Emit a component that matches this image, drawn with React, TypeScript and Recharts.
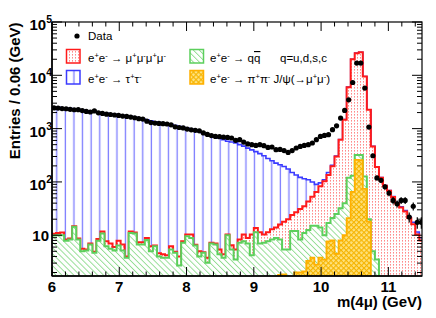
import React from 'react';
import { ComposedChart, Area, Scatter, XAxis, YAxis, ErrorBar } from 'recharts';

// ---------- data ----------
const BIN_START = 6.0;
const BIN_WIDTH = 0.06;
const X_MIN = 6;
const X_MAX = 11.5;
const Y_MIN = 1.72;
const Y_MAX = 100000;

// observed events per bin
const DATA_COUNTS = [
  2450, 2430, 2380, 2360, 2300, 2260, 2270, 2180, 2100, 2050,
  2150, 1980, 1930, 1870, 1840, 1800, 1770, 1720, 1690, 1650,
  1600, 1540, 1510, 1380, 1300, 1270, 1250, 1240, 1220, 1180,
  1080, 1050, 1030, 980, 950, 930, 910, 830, 780, 740,
  715, 705, 690, 684, 667, 602, 620, 560, 516, 500,
  484, 500, 479, 444, 452, 403, 407, 388, 358, 388,
  433, 464, 484, 500, 537, 620, 715, 746, 769, 955,
  1130, 1580, 2190, 3470, 7330, 17000, 17000, 5760, 1070, 310,
  119, 107, 81, 62, 45, 39, 45, 45, 22, 35,
  17.5, 17.5,
];
// visible error bars of the last bins (from bin 78 on)
const ERR_TAIL_START = 78;
const DATA_ERR_TAIL = [33, 18, 11, 10, 9, 8, 7, 6, 6.5, 6.5, 4.7, 6, 4.2, 4.2];

// stack top: all MC (tau tau on top)
const STACK_TAUTAU = [
  2550, 2500, 2450, 2400, 2370, 2330, 2290, 2230, 2170, 2120,
  2080, 2030, 1980, 1930, 1890, 1850, 1800, 1760, 1720, 1680,
  1630, 1580, 1530, 1460, 1400, 1340, 1300, 1260, 1230, 1190,
  1140, 1090, 1050, 1010, 970, 930, 880, 820, 780, 740,
  700, 660, 620, 580, 560, 540, 500, 470, 430, 400,
  370, 340, 310, 275, 250, 225, 210, 195, 175, 150,
  135, 122, 115, 110, 100, 90, 96, 110, 150, 205,
  305, 625, 1480, 6020, 20030, 26030, 27030, 9510, 2262, 465,
  191, 121, 86, 69, 53, 41, 34, 29, 22, 17.5,
  11.5, 9,
];
// mu mu mu mu on top of qq + J/psi
const STACK_4MU = [
  10.7, 11.0, 11.3, 8.3, 8.7, 14.8, 8.7, 5.6, 5.4, 7.0,
  4.9, 8.5, 11.7, 7.7, 7.0, 6.0, 7.9, 6.7, 4.0, 11.7,
  11.3, 7.4, 7.4, 8.9, 6.2, 6.4, 4.6, 4.4, 4.2, 6.2,
  4.9, 4.0, 7.7, 10.3, 10.3, 6.6, 5.0, 4.8, 3.8, 7.2,
  7.0, 5.4, 4.4, 10.3, 6.5, 5.4, 8.3, 10.3, 8.9, 10.3,
  13.7, 11.4, 10.3, 11.4, 13.0, 14.0, 15.9, 18, 20, 24,
  27, 31, 35, 43, 53, 65, 83, 103, 135, 197,
  300, 617, 1470, 6000, 20000, 26000, 27000, 9500, 2260, 464,
  190, 120, 85, 68, 52, 40, 33, 28, 21, 16,
  10.3, 8,
];
// q qbar on top of J/psi  (1 = empty bin, below the axis)
const STACK_QQ = [
  9.9, 10.0, 10.0, 7.9, 8.3, 14.5, 8.3, 5.0, 5.2, 6.7,
  4.7, 7.9, 10.8, 6.2, 5.6, 5.2, 6.4, 5.2, 3.8, 11.0,
  10.8, 6.7, 6.7, 8.1, 5.0, 6.2, 4.0, 3.8, 3.8, 5.4,
  4.7, 2.7, 7.2, 9.6, 8.9, 6.4, 4.0, 4.7, 3.05, 7.0,
  6.7, 4.4, 3.8, 10.0, 5.4, 3.5, 7.2, 7.7, 7.0, 4.2,
  11.4, 7.0, 7.2, 7.7, 8.3, 8.9, 8.3, 5.4, 5.4, 12,
  12, 8.3, 11, 12.6, 15, 15, 14, 10, 17, 21,
  25, 32, 40, 120, 130, 320, 320, 127, 20, 5,
  3.5, 1, 1, 1, 1, 1, 1, 1, 1, 1,
  1, 1,
];
// pi pi J/psi  (1 = empty bin, below the axis)
const STACK_JPSI = [
  1, 1, 1, 1, 1, 1, 1, 1, 1, 1,
  1, 1, 1, 1, 1, 1, 1, 1, 1, 1,
  1, 1, 1, 1, 1, 1, 1, 1, 1, 1,
  1, 1, 1, 1, 1, 1, 1, 1, 1, 1,
  1, 1, 1, 1, 1, 1, 1, 1, 1, 1,
  1, 1, 1, 1, 1, 1, 1.8, 1.85, 1.5, 1.5,
  2.0, 2.0, 2.1, 3.3, 3.8, 2.8, 3.8, 3.5, 7.7, 8.0,
  4.5, 8.0, 10, 21, 65, 260, 255, 74, 18, 1,
  1, 1, 1, 1, 1, 1, 1, 1, 1, 1,
  1, 1,
];

const X_TICKS = [
  6, 6.2, 6.4, 6.6, 6.8, 7, 7.2, 7.4, 7.6, 7.8, 8, 8.2, 8.4, 8.6, 8.8,
  9, 9.2, 9.4, 9.6, 9.8, 10, 10.2, 10.4, 10.6, 10.8, 11, 11.2, 11.4,
];
const X_LABELS = [6, 7, 8, 9, 10, 11];
const Y_TICKS = [
  2, 3, 4, 5, 6, 7, 8, 9,
  10, 20, 30, 40, 50, 60, 70, 80, 90,
  100, 200, 300, 400, 500, 600, 700, 800, 900,
  1000, 2000, 3000, 4000, 5000, 6000, 7000, 8000, 9000,
  10000, 20000, 30000, 40000, 50000, 60000, 70000, 80000, 90000, 100000,
];

// ---------- tables for the library ----------
const NB = DATA_COUNTS.length;
const histRows = [] as any[];
for (let i = 0; i <= NB; i++) {
  const k = Math.min(i, NB - 1);
  histRows.push({
    x: +(BIN_START + BIN_WIDTH * i).toFixed(3),
    tautau: STACK_TAUTAU[k],
    mu4: STACK_4MU[k],
    qq: STACK_QQ[k],
    jpsi: STACK_JPSI[k],
  });
}
const pointRows = DATA_COUNTS.map((v, i) => ({
  x: +(BIN_START + BIN_WIDTH * (i + 0.5)).toFixed(3),
  y: v,
  err: i >= ERR_TAIL_START ? DATA_ERR_TAIL[i - ERR_TAIL_START] : 0,
}));

// ---------- layout ----------
const W = 436;
const H = 318;
const PLOT_LEFT = 52;
const PLOT_RIGHT = 422;
const PLOT_TOP = 22;
const PLOT_BOTTOM = 276;
const FONT = '"Liberation Sans", Arial, Helvetica, sans-serif';

const C_BLUE = '#3b3bff';
const C_RED = '#ff1a1a';
const C_GREEN = '#5ccf5c';
const C_YELLOW = '#ffb000';

function XTick(props: any) {
  const { x, payload } = props;
  const v = payload.value;
  const major = X_LABELS.some((m) => Math.abs(m - v) < 1e-6);
  const len = major ? 9 : 4.5;
  return (
    <g>
      <line x1={x} x2={x} y1={PLOT_BOTTOM} y2={PLOT_BOTTOM - len} stroke="#000" strokeWidth={1} />
      <line x1={x} x2={x} y1={PLOT_TOP} y2={PLOT_TOP + len} stroke="#000" strokeWidth={1} />
      {major && (
        <text x={x} y={291.5} textAnchor="middle" fontFamily={FONT} fontWeight="bold" fontSize={15} fill="#000">
          {String(v)}
        </text>
      )}
    </g>
  );
}

function YTick(props: any) {
  const { y, payload } = props;
  const v = payload.value;
  const e = Math.log10(v);
  const major = Math.abs(e - Math.round(e)) < 1e-6;
  const len = major ? 10 : 5;
  const n = Math.round(e);
  return (
    <g>
      <line x1={PLOT_LEFT} x2={PLOT_LEFT + len} y1={y} y2={y} stroke="#000" strokeWidth={1} />
      <line x1={PLOT_RIGHT} x2={PLOT_RIGHT - len} y1={y} y2={y} stroke="#000" strokeWidth={1} />
      {major && n === 1 && (
        <text x={49} y={y + 5.3} textAnchor="end" fontFamily={FONT} fontWeight="bold" fontSize={15} fill="#000">
          10
        </text>
      )}
      {major && n > 1 && (
        <text x={52} y={y + 8} textAnchor="end" fontFamily={FONT} fontWeight="bold" fontSize={15} fill="#000">
          10
          <tspan dy={-7} fontSize={10.5}>
            {String(n)}
          </tspan>
        </text>
      )}
    </g>
  );
}

// [text, superscript, overline]
type Part = [string, boolean, boolean?];
function Rich({ x, y, parts, size = 11.5 }: { x: number; y: number; parts: Part[]; size?: number }) {
  let raised = false;
  const spans = parts.map(([s, sup, over], k) => {
    const dy = sup && !raised ? -4.5 : !sup && raised ? 4.5 : 0;
    raised = sup;
    return (
      <tspan key={k} dy={dy} fontSize={sup ? 7.5 : size} style={over ? { textDecoration: 'overline' } : undefined}>
        {s}
      </tspan>
    );
  });
  return (
    <text x={x} y={y} fontFamily={FONT} fontSize={size} fill="#000" style={{ whiteSpace: 'pre' }}>
      {spans}
    </text>
  );
}

const EE_ARROW: Part[] = [['e', false], ['+', true], ['e', false], ['-', true], [' \u2192 ', false]];

function DataDot(props: any) {
  const { cx, cy } = props;
  if (cx == null || cy == null) return null;
  return <circle cx={cx} cy={cy} r={2.6} fill="#000" />;
}

export default function App() {
  return (
    <div style={{ position: 'absolute', left: 0, top: 0, width: W, height: H, background: '#fff' }}>
      <ComposedChart width={W} height={H} data={histRows} margin={{ top: PLOT_TOP, right: W - PLOT_RIGHT, left: 0, bottom: 0 }}>
        <Area
          type="stepAfter"
          dataKey="tautau"
          stroke={C_BLUE}
          strokeWidth={1.6}
          fill="url(#pBlue)"
          fillOpacity={1}
          baseValue={Y_MIN}
          isAnimationActive={false}
          dot={false}
          activeDot={false}
        />
        <Area
          type="stepAfter"
          dataKey="mu4"
          stroke={C_RED}
          strokeWidth={2}
          fill="url(#pRed)"
          fillOpacity={1}
          baseValue={Y_MIN}
          isAnimationActive={false}
          dot={false}
          activeDot={false}
        />
        <Area
          type="stepAfter"
          dataKey="qq"
          stroke={C_GREEN}
          strokeWidth={2}
          fill="url(#pGreen)"
          fillOpacity={1}
          baseValue={Y_MIN}
          isAnimationActive={false}
          dot={false}
          activeDot={false}
        />
        <Area
          type="stepAfter"
          dataKey="jpsi"
          stroke={C_YELLOW}
          strokeWidth={1.8}
          fill="url(#pYellow)"
          fillOpacity={1}
          baseValue={Y_MIN}
          isAnimationActive={false}
          dot={false}
          activeDot={false}
        />
        <Scatter data={pointRows} dataKey="y" shape={<DataDot />} isAnimationActive={false}>
          <ErrorBar dataKey="err" direction="y" width={0} stroke="#000" strokeWidth={1.2} />
        </Scatter>
        <XAxis
          dataKey="x"
          type="number"
          domain={[X_MIN, X_MAX]}
          allowDataOverflow
          ticks={X_TICKS}
          interval={0}
          tickLine={false}
          tickSize={0}
          tickMargin={0}
          tick={<XTick />}
          height={H - PLOT_BOTTOM}
          axisLine={{ stroke: '#000', strokeWidth: 1.5 }}
        />
        <YAxis
          type="number"
          scale="log"
          domain={[Y_MIN, Y_MAX]}
          allowDataOverflow
          ticks={Y_TICKS}
          interval={0}
          tickLine={false}
          tickSize={0}
          tickMargin={0}
          tick={<YTick />}
          width={PLOT_LEFT}
          axisLine={{ stroke: '#000', strokeWidth: 1.5 }}
        />
      </ComposedChart>
      <svg width={W} height={H} style={{ position: 'absolute', left: 0, top: 0, pointerEvents: 'none' }}>
        <defs>
          <pattern id="pBlue" width={8.6} height={4} patternUnits="userSpaceOnUse">
            <rect width={8.6} height={4} fill="#fff" />
            <rect x={4.5} y={0} width={1.3} height={4} fill="#7d7dff" />
          </pattern>
          <pattern id="pRed" width={3} height={3} patternUnits="userSpaceOnUse">
            <rect width={3} height={3} fill="#fff" />
            <rect x={0} y={0} width={1} height={1.6} fill="#ff8a8a" />
          </pattern>
          <pattern id="pGreen" width={4.2} height={4.2} patternUnits="userSpaceOnUse" patternTransform="rotate(-45)">
            <rect width={4.2} height={4.2} fill="#fff" />
            <rect x={0} y={0} width={0.9} height={4.2} fill="#8fdc8f" />
          </pattern>
          <pattern id="pYellow" width={3.6} height={3.6} patternUnits="userSpaceOnUse" patternTransform="rotate(45)">
            <rect width={3.6} height={3.6} fill="#ffe27e" />
            <rect x={0} y={0} width={3.6} height={1.1} fill="#f5b400" />
            <rect x={0} y={0} width={1.1} height={3.6} fill="#f5b400" />
          </pattern>
        </defs>

        {/* frame */}
        <rect x={PLOT_LEFT} y={PLOT_TOP} width={PLOT_RIGHT - PLOT_LEFT} height={PLOT_BOTTOM - PLOT_TOP} fill="none" stroke="#000" strokeWidth={1.2} />

        {/* axis titles */}
        <text x={PLOT_RIGHT} y={307} textAnchor="end" fontFamily={FONT} fontWeight="bold" fontSize={15} fill="#000">
          m(4μ) (GeV)
        </text>
        <text
          x={19.5}
          y={22.5}
          textAnchor="end"
          transform="rotate(-90 19.5 22.5)"
          fontFamily={FONT}
          fontWeight="bold"
          fontSize={15}
          fill="#000"
        >
          Entries / 0.06 (GeV)
        </text>

        {/* legend */}
        <circle cx={77} cy={36} r={2.6} fill="#000" />
        <text x={88} y={40} fontFamily={FONT} fontSize={11.5} fill="#000">
          Data
        </text>

        <rect x={66.5} y={49.5} width={13.5} height={13.5} fill="url(#pRed)" stroke={C_RED} strokeWidth={1.5} />
        <Rich
          x={88}
          y={62}
          parts={[...EE_ARROW, ['μ', false], ['+', true], ['μ', false], ['-', true], ['μ', false], ['+', true], ['μ', false], ['-', true]]}
        />

        <rect x={66.5} y={70.5} width={13.5} height={13.5} fill="url(#pBlue)" stroke={C_BLUE} strokeWidth={1.5} />
        <Rich x={88} y={83} parts={[...EE_ARROW, ['τ', false], ['+', true], ['τ', false], ['-', true]]} />

        <rect x={190} y={49.5} width={13.5} height={13.5} fill="url(#pGreen)" stroke={C_GREEN} strokeWidth={1.5} />
        <Rich x={210} y={62} parts={[...EE_ARROW, ['q', false], ['q', false, true]]} />
        <Rich x={280} y={62} parts={[['q=u,d,s,c', false]]} />

        <rect x={190} y={70.5} width={13.5} height={13.5} fill="url(#pYellow)" stroke={C_YELLOW} strokeWidth={1.5} />
        <Rich
          x={210}
          y={83}
          parts={[
            ...EE_ARROW,
            ['π', false],
            ['+', true],
            ['π', false],
            ['-', true],
            [' J/ψ(\u2192μ', false],
            ['+', true],
            ['μ', false],
            ['-', true],
            [')', false],
          ]}
        />
      </svg>
    </div>
  );
}
